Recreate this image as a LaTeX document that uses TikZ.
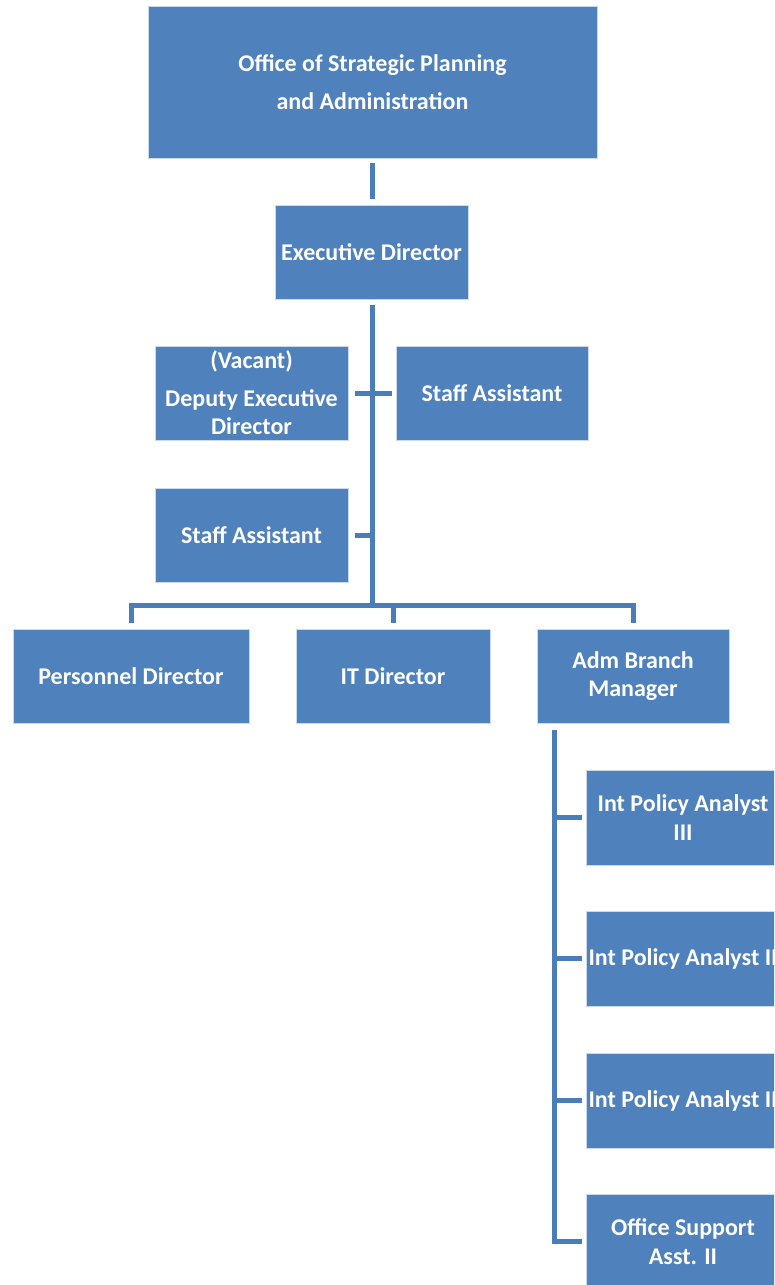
\documentclass[tikz,border=0pt]{standalone}
\usepackage{fontspec}
\setmainfont{Carlito}
\definecolor{boxblue}{HTML}{4F81BD}
\definecolor{lineblue}{HTML}{4A7EBB}
\begin{document}
\begin{tikzpicture}[x=1pt,y=-1pt,
  orgbox/.style={fill=boxblue, draw=white!70!boxblue, line width=0.6pt, text=white, align=center,
    font=\fontsize{24}{28.5}\selectfont\bfseries, inner sep=0pt},
  conn/.style={draw=lineblue, line width=5pt}]
\useasboundingbox (0,0) rectangle (774,1285);
\clip (0,0) rectangle (774,1285);
\node[orgbox, minimum width=449pt, minimum height=152pt] (top) at (372.5,82) {Office of Strategic Planning\\[9pt]and Administration};
\node[orgbox, minimum width=193pt, minimum height=94pt] (exec) at (371.5,252) {Executive Director};
\node[orgbox, minimum width=193pt, minimum height=94pt] (dep) at (251.5,393) {(Vacant)\\[9pt]Deputy Executive\\Director};
\node[orgbox, minimum width=192pt, minimum height=94pt] (sar) at (492,393) {Staff Assistant};
\node[orgbox, minimum width=193pt, minimum height=94pt] (sal) at (251.5,535) {Staff Assistant};
\node[orgbox, minimum width=236pt, minimum height=94pt] (pers) at (131,676) {Personnel Director};
\node[orgbox, minimum width=194pt, minimum height=94pt] (it) at (393,676) {IT Director};
\node[orgbox, minimum width=192pt, minimum height=94pt] (adm) at (633,676) {Adm Branch\\Manager};
\node[orgbox, minimum width=194pt, minimum height=95pt] (ipa3) at (683,817.5) {Int Policy Analyst\\III};
\node[orgbox, minimum width=194pt, minimum height=95pt] (ipa2a) at (683,958.5) {Int Policy Analyst II};
\node[orgbox, minimum width=194pt, minimum height=95pt] (ipa2b) at (683,1100.5) {Int Policy Analyst II};
\node[orgbox, minimum width=194pt, minimum height=95pt] (osa) at (683,1241.5) {Office Support\\Asst. II};
\coordinate (bus) at (372,605);
\coordinate (admv) at (554,730);
% connectors
\draw[conn, shorten <=5pt, shorten >=6pt] (top.south -| bus) -- (exec.north -| bus);
\draw[conn, shorten <=6pt] (exec.south -| bus) -- (bus);
\draw[conn, shorten <=7pt, shorten >=4pt] (dep.east) -- (sar.west);
\draw[conn, shorten <=7pt] (sal.east) -- (sal.east -| bus);
\draw[conn, shorten <=6pt, shorten >=6pt] (pers.north) |- (bus) -| (adm.north);
\draw[conn, shorten <=6pt] (it.north) -- (it.north |- bus);
\draw[conn, shorten >=4pt] (admv) |- (osa.west);
\draw[conn, shorten <=4pt] (ipa3.west) -- (ipa3.west -| admv);
\draw[conn, shorten <=4pt] (ipa2a.west) -- (ipa2a.west -| admv);
\draw[conn, shorten <=4pt] (ipa2b.west) -- (ipa2b.west -| admv);
\end{tikzpicture}
\end{document}
